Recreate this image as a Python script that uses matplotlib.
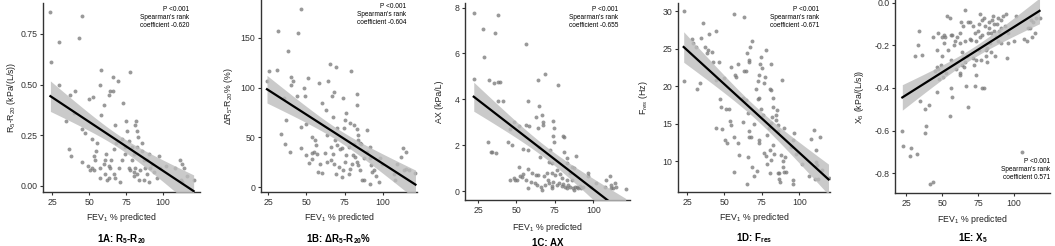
import numpy as np
import matplotlib
matplotlib.use("Agg")
import matplotlib.pyplot as plt

plt.rcParams['font.family'] = ['Liberation Sans', 'DejaVu Sans']
plt.rcParams['mathtext.fontset'] = 'custom'
plt.rcParams['mathtext.rm'] = 'Liberation Sans'
plt.rcParams['mathtext.it'] = 'Liberation Sans:italic'
plt.rcParams['mathtext.bf'] = 'Liberation Sans:bold'

# FEV1 % predicted vs oscillometry measure
pts_1a = [(23.9,0.86),(45.3,0.84),(24.3,0.61),(29.5,0.71),(43.5,0.73),(30,0.50),(40.8,0.47),(37,0.45),
          (49.8,0.43),(52.6,0.44),(57.7,0.50),(58.4,0.57),(77.9,0.56),(66.2,0.54),(69.4,0.52),(64.4,0.47),
          (66,0.47),(63.3,0.45),(60.3,0.40),(73.3,0.41),(58,0.35),(34.5,0.32),(39.7,0.36),(45.3,0.28),
          (47.5,0.26),(36.3,0.18),(38,0.15),(45.5,0.12),(49.1,0.10),(52,0.09),(54.3,0.13),(53.1,0.15),
          (55,0.17),(55.4,0.21),(52,0.23),(57.7,0.09),(57.7,0.04),(60,0.11),(61.7,0.16),(61,0.06),
          (64.4,0.09),(64.9,0.13),(66.7,0.18),(68.5,0.21),(67.8,0.30),(70,0.09),(71.2,0.02),(66.7,0.06),
          (67.8,0.04),(63.3,0.04),(72.3,0.13),(74.5,0.16),(74.5,0.19),(72.3,0.23),(75.7,0.27),(75.2,0.32),
          (76.8,0.09),(77.9,0.08),(79,0.13),(80.2,0.16),(81.3,0.30),(82,0.32),(82.4,0.27),(82.9,0.24),
          (82.4,0.19),(81.3,0.09),(82.4,0.06),(83.6,0.03),(80.2,0.05),(85.8,0.21),(85.8,0.17),(87,0.13),
          (88,0.09),(89.2,0.06),(90.3,0.02),(87,0.03),(91.4,0.09),(92.6,0.11),(94.1,0.07),(95.9,0.04),
          (97,0.15),(98.2,0.09),(84.7,0.08),(102.2,0.10),(108.3,0.09),(111.7,0.13),(112.8,0.11),(113.9,0.09),
          (112.1,0.03),(112.8,0.02),(116.2,0.05),(120.7,0.03),(89.2,0.13),(90.3,0.16),(76.8,0.22),(79,0.19),
          (80.6,0.07),(63.3,0.10),(62.2,0.03),(53.1,0.08),(61,0.13),(50.4,0.08)]

pts_1b = [(24.3,107),(25.7,117),(31.1,118),(31.6,157),(37.7,137),(44.7,155),(46.2,179),(40.3,111),
          (41,107),(39.9,103),(43.6,92),(48.6,100),(50.8,110),(49,92),(35.3,89),(36.6,67),(46.5,60),
          (50,63),(33.5,53),(35.9,43),(39.2,35),(46.4,39),(49.7,32),(51.5,24),(53.4,28),(54,50),(55.6,47),
          (56.3,42),(56.7,33),(55,35),(53.4,34),(58,105),(60.4,84),(62.6,77),(58.9,23),(60,14),(57.8,15),
          (63.3,52),(64.4,107),(65.5,124),(66.6,91),(68.1,96),(67.6,70),(69.4,121),(69.8,59),(68.7,47),
          (70.3,42),(72,38),(73.1,39),(65.9,40),(67.2,33),(65.9,27),(68.1,23),(69.4,13),(71,20),(73.1,10),
          (74.2,17),(75.3,25),(76,32),(74.6,59),(75.3,67),(76,74),(74.2,89),(79,117),(78.6,64),(80.8,62),
          (83,58),(83,94),(83,82),(83.4,52),(84,47),(85.1,44),(85.6,43),(81.2,43),(80.3,32),(81.9,30),
          (83,25),(84,22),(79.7,23),(78.6,18),(78.1,13),(85.1,17),(86.2,7),(87.3,7),(89.5,57),(91.7,40),
          (91.3,29),(92.1,22),(92.8,15),(91.7,3),(93.9,17),(95.6,11),(97.2,5),(98.3,29),(99.4,23),(89.5,35),
          (87.8,29),(107,13),(108.1,7),(109.2,23),(111.8,30),(113.1,39),(114.7,35),(113.6,17),(115.3,18),
          (116.9,17),(121.2,14),(63.3,25),(62.2,34),(77.5,40)]

pts_1c = [(22.6,7.78),(22.2,4.89),(28,7.08),(28.7,5.85),(37.7,7.68),(36.2,6.88),(56.3,6.42),(31.9,4.86),
          (35.2,4.72),(38,4.77),(39,4.75),(37.7,3.91),(41.2,3.94),(63.9,4.83),(68.7,5.11),(77.3,4.64),
          (57.4,3.91),(64.7,3.69),(66.5,3.33),(62.6,3.21),(67.6,2.99),(67.6,2.89),(64.3,2.74),(56.3,2.89),
          (58.5,2.85),(48.1,2.99),(51.4,2.85),(45.5,2.70),(73.9,3.04),(74.7,2.74),(73.9,2.41),(80.5,2.38),
          (81.1,2.35),(74.7,2.16),(71.9,1.80),(65,1.91),(57.8,1.80),(54.2,1.85),(31.5,2.12),(44.2,2.16),
          (47,2.01),(33.4,1.72),(34.1,1.69),(36.9,1.65),(65.4,1.50),(71.5,1.28),(73,1.21),(81.1,1.72),
          (82.7,1.43),(88.5,1.55),(82.7,1.21),(85.9,1.07),(84.8,0.77),(87.7,0.99),(78.4,0.74),(76.2,0.92),
          (75.1,0.70),(73,0.77),(69.7,0.77),(68,0.66),(64.3,0.70),(62.8,0.70),(60,0.80),(57.4,0.95),
          (54.2,0.74),(51.4,1.07),(48.1,0.55),(45.5,0.48),(48.8,0.48),(50.3,0.48),(52.4,0.66),(53.5,0.60),
          (56,0.48),(57.4,0.12),(59.3,0.41),(61.9,0.37),(63.6,0.26),(65.7,0.19),(66.5,0.04),(68.7,0.26),
          (70.8,0.48),(71.5,0.37),(73,0.22),(74.1,0.41),(76.2,0.26),(77.9,0.37),(79.5,0.22),(80.5,0.31),
          (81.6,0.19),(82.7,0.12),(83.8,0.26),(84.9,0.19),(86.6,0.12),(87.5,0.04),(88.1,0.16),(89.2,0.19),
          (90.3,0.12),(91.3,0.23),(92.4,0.12),(93.5,0.19),(96.7,0.77),(96.7,0.66),(98.9,0.19),(102.1,0.34),
          (107.5,0.19),(108.6,0.48),(110.8,0.66),(111.9,0.26),(113,0.12),(114,0.34),(115.1,0.19),(121.2,0.09),
          (111.9,0.12),(85.9,0.48),(79.5,0.55),(82.7,0.48),(73,0.12)]

pts_1d = [(23,30),(22.8,20.7),(28.6,26.3),(29,25.8),(31.2,25.2),(34.5,26.4),(35.7,28.4),(36.8,25.2),
          (39,24.8),(38.3,24.4),(39.7,27),(44.1,27.4),(41.6,24.6),(42.3,23.2),(46.3,23.3),(33.9,20.4),
          (31.9,19.6),(44.1,20.8),(49.6,21.1),(47.2,18.3),(47.4,17.2),(44.1,14.5),(48.5,14.3),(50.7,12.8),
          (51.5,12.4),(51.1,17),(52.8,17),(53.4,15.4),(54.1,22.6),(56.3,29.6),(57.2,21.5),(57.8,21.3),
          (54.1,14.8),(56.1,13.2),(56.1,8.6),(59,12.4),(59.6,10.8),(59,23),(62.3,18.4),(62,18.3),(64.1,18.2),
          (63.4,22),(64.5,22),(66.3,23.2),(65,24.4),(63.4,29.3),(67.2,25.2),(68.5,26),(66.7,23.5),(65.6,16.4),
          (66.3,14.1),(66.3,13.2),(67.8,13.2),(65.6,10.6),(62.3,15.2),(65,7),(68.5,9.3),(70,15),(71.1,19.6),
          (72.2,18.3),(72.9,18.4),(72.2,20.7),(73.4,21.5),(73.8,23),(74.1,23.9),(75.1,22.4),(76.7,20.4),
          (77.4,21.2),(77.8,24.8),(74.5,17),(75.6,16.1),(72.9,12.8),(73.4,12.4),(71.8,8.7),(70,8),(76.7,11.1),
          (77.8,10.7),(78.3,9.7),(78.3,13.5),(80,14.4),(81.1,15.1),(80.5,19.7),(81.1,19.5),(81.1,23),
          (82.3,18.4),(82.3,17.2),(81.8,15.9),(82.3,12.2),(82.9,11),(80.7,11.5),(81.1,10.2),(80.5,8.4),
          (84.9,16.8),(84.5,16.1),(84.5,15.5),(85.6,14.8),(85.6,14.1),(86.2,8.4),(86.7,7.7),(87.1,7.2),
          (85.6,8.4),(88.2,20.8),(87.8,10.8),(88.9,10.1),(89.4,9.2),(90,8.6),(90.7,10.6),(90,14.4),(91.1,8.6),
          (95.6,12.8),(95.6,7.5),(96,7),(96.2,13.8),(94.5,11.9),(97.8,11),(101.8,9.7),(106.7,8.1),(107.8,13),
          (110,14.2),(110.9,11.5),(111.4,9.9),(111.6,9.5),(110.5,7.7),(112.2,7.6),(113.8,13.2),(115.1,8.8),
          (119.5,7.8)]

pts_1e = [(22.1,-0.60),(22.8,-0.675),(27.9,-0.68),(27.6,-0.72),(32.1,-0.71),(33.8,-0.13),(32.7,-0.20),
          (31,-0.25),(36,-0.245),(34.5,-0.46),(37.8,-0.50),(37.8,-0.61),(38.7,-0.58),(40.9,-0.48),
          (41.5,-0.85),(43.7,-0.84),(43.7,-0.16),(47.1,-0.14),(46.6,-0.22),(44.9,-0.32),(46,-0.30),
          (47.1,-0.31),(46,-0.42),(47.5,-0.36),(49.9,-0.16),(51,-0.15),(51,-0.19),(51.5,-0.16),(49.7,-0.25),
          (50.4,-0.35),(49.3,-0.29),(52.6,-0.33),(53.2,-0.06),(55.4,-0.07),(55.9,-0.15),(57,-0.15),
          (53.8,-0.22),(55.9,-0.27),(55.9,-0.40),(57,-0.44),(55.4,-0.53),(58.1,-0.20),(58.5,-0.18),
          (59.2,-0.31),(60.3,-0.16),(62,-0.14),(62,-0.19),(62,-0.33),(62.5,-0.34),(62.9,-0.09),(63.6,-0.23),
          (63.6,-0.29),(64.3,-0.26),(64.7,-0.11),(65.8,-0.18),(65.8,-0.034),(65.4,-0.30),(65.8,-0.28),
          (66.5,-0.39),(66.9,-0.25),(67.6,-0.49),(68,-0.09),(69.1,-0.17),(69.1,-0.09),(69.8,-0.175),
          (71.3,-0.11),(71.3,-0.26),(72,-0.29),(72.4,-0.14),(72.4,-0.39),(73.1,-0.27),(73.1,-0.34),
          (73.5,-0.18),(74.6,-0.13),(75.3,-0.22),(75.7,-0.10),(76.2,-0.05),(76.4,-0.16),(76.8,-0.27),
          (77.5,-0.40),(77.9,-0.15),(77.9,-0.08),(79,-0.07),(79,-0.40),(79.7,-0.11),(80.2,-0.22),
          (80.6,-0.25),(81.3,-0.21),(81.3,-0.28),(81.9,-0.14),(82.4,-0.09),(82.8,-0.12),(83.5,-0.19),
          (84.1,-0.23),(84.1,-0.14),(84.6,-0.08),(85,-0.06),(85.7,-0.10),(86.3,-0.13),(86.8,-0.25),
          (87.2,-0.16),(87.9,-0.10),(88.5,-0.18),(89,-0.07),(89.4,-0.13),(90.1,-0.15),(91.2,-0.08),
          (91.2,-0.19),(90.7,-0.12),(100,-0.18),(92.3,-0.06),(93.8,-0.11),(94.5,-0.05),(95.1,-0.26),
          (96,-0.14),(95.6,-0.19),(101.1,-0.06),(105.5,-0.70),(106.6,-0.17),(108.8,-0.18),(109.9,-0.12),
          (111,-0.12),(112.1,-0.08),(112.8,-0.16),(113.2,-0.09),(114.3,-0.14),(115.4,-0.07),(117.7,-0.07)]

ylabels = [r"R$_5$-R$_{20}$ (kPa/(L/s))", r"ΔR$_5$-R$_{20}$% (%)", "AX (kPa/L)",
           r"F$_{res}$ (Hz)", r"X$_5$ (kPa/(L/s))"]
titles = [r"1A: $\mathbf{R_5}$-$\mathbf{R_{20}}$", r"1B: ΔR$\mathbf{_5}$-R$\mathbf{_{20}}$%", "1C: AX",
          r"1D: F$\mathbf{_{res}}$", r"1E: X$\mathbf{_5}$"]
rho = ["-0.620", "-0.604", "-0.655", "-0.671", "0.571"]
yticks = [[0, 0.25, 0.5, 0.75], [0, 50, 100, 150], [0, 2, 4, 6, 8], [10, 15, 20, 25, 30],
          [-0.8, -0.6, -0.4, -0.2, 0.0]]
yfmt = ["{:.2f}", "{:.0f}", "{:.0f}", "{:.0f}", "{:.1f}"]
xticks = [25, 50, 75, 100]
all_pts = [pts_1a, pts_1b, pts_1c, pts_1d, pts_1e]

# layout in pixels: left, right, top, bottom of each plot box
W, H = 1055, 246
boxes = [(43, 200, 3, 192), (261, 417, 0, 192), (465, 630, 3, 200), (678, 830, 3, 192), (895, 1050, 0, 193)]
xlims = [(18.9, 125), (20.4, 122.2), (16.5, 124), (19, 120.5), (17, 125)]
ylims = [(-0.03, 0.903), (-5, 188), (-0.39, 8.2), (5.9, 31.1), (-0.894, 0.014)]
ylab_x = [5, 222, 435, 637, 853]
xlab_y = [218, 218, 227, 218, 220]
title_y = [239, 239, 243, 238, 238]

fig = plt.figure(figsize=(W / 100, H / 100), dpi=100)
for i in range(5):
    l, r, t, b = boxes[i]
    ax = fig.add_axes([l / W, 1 - b / H, (r - l) / W, (b - t) / H])
    p = np.array(all_pts[i])
    x, y = p[:, 0], p[:, 1]
    ax.scatter(x, y, s=8, color='#777777', alpha=0.75, linewidths=0, zorder=2)

    # linear fit with 95% confidence band
    slope, icpt = np.polyfit(x, y, 1)
    xs = np.linspace(x.min(), x.max(), 100)
    fit = icpt + slope * xs
    n = len(x)
    s = np.sqrt(np.sum((y - (icpt + slope * x)) ** 2) / (n - 2))
    se = s * np.sqrt(1 / n + (xs - x.mean()) ** 2 / np.sum((x - x.mean()) ** 2))
    ax.fill_between(xs, fit - 1.98 * se, fit + 1.98 * se, color='#bdbdbd', alpha=0.8, linewidth=0, zorder=3)
    ax.plot(xs, fit, color='black', lw=1.6, zorder=4)

    ax.set_xlim(*xlims[i])
    ax.set_ylim(*ylims[i])
    ax.set_xticks(xticks)
    ax.set_yticks(yticks[i])
    ax.set_yticklabels([yfmt[i].format(v) for v in yticks[i]])
    for side in ['top', 'right']:
        ax.spines[side].set_visible(False)
    for side in ['left', 'bottom']:
        ax.spines[side].set_color('#333333')
        ax.spines[side].set_linewidth(1.0)
    ax.tick_params(length=2.5, width=0.8, color='#333333', pad=1.5, labelsize=6.3, labelcolor='#333333')

    note = "P <0.001\nSpearman's rank\ncoefficient " + rho[i]
    if i < 4:
        ax.text(0.93, 0.985, note, transform=ax.transAxes, ha='right', va='top',
                fontsize=4.7, linespacing=1.2, color='black')
    else:
        ax.text(1.0, 0.06, note, transform=ax.transAxes, ha='right', va='bottom',
                fontsize=4.7, linespacing=1.2, color='black')

    cx = (l + r) / 2 / W
    fig.text(ylab_x[i] / W, 1 - (t + b) / 2 / H, ylabels[i], rotation=90, ha='left', va='center',
             fontsize=6.3, color='#222222')
    fig.text(cx, 1 - xlab_y[i] / H, r"FEV$_1$ % predicted", ha='center', va='center',
             fontsize=6.3, color='#222222')
    fig.text(cx, 1 - title_y[i] / H, titles[i], ha='center', va='center', fontsize=7,
             fontweight='bold', color='black')

fig.savefig("out.png", dpi=100)
